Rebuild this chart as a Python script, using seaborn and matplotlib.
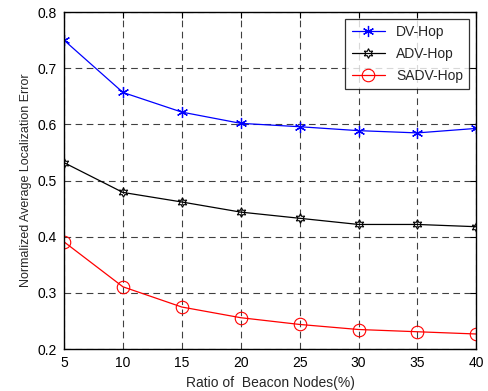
import numpy as np
import pandas as pd
import matplotlib
matplotlib.use("Agg")
import matplotlib.pyplot as plt
import seaborn as sns

# values
ratio = [5, 10, 15, 20, 25, 30, 35, 40]
dv_hop = [0.750, 0.657, 0.622, 0.602, 0.596, 0.589, 0.585, 0.593]
adv_hop = [0.532, 0.479, 0.462, 0.444, 0.433, 0.422, 0.422, 0.418]
sadv_hop = [0.391, 0.311, 0.275, 0.256, 0.244, 0.235, 0.231, 0.227]

series = {"DV-Hop": dv_hop, "ADV-Hop": adv_hop, "SADV-Hop": sadv_hop}
df = pd.DataFrame(
    [(r, name, v) for name, vals in series.items() for r, v in zip(ratio, vals)],
    columns=["ratio", "method", "error"],
)

sns.set_style("white")
plt.rcParams['font.family'] = ['Liberation Sans', 'DejaVu Sans']

fig = plt.figure(figsize=(4.89, 3.91), dpi=100)
ax = fig.add_axes([0.131, 0.107, 0.843, 0.862])

styles = {
    "DV-Hop": dict(color="#0000ff", marker=(6, 2, 0), ms=8, mfc="none", mec="#0000ff", mew=0.9),
    "ADV-Hop": dict(color="black", marker=(6, 1, 0), ms=7, mfc="none", mec="black", mew=0.8),
    "SADV-Hop": dict(color="#ff0000", marker="o", ms=9, mfc="none", mec="#ff0000", mew=0.8),
}
for name in series:
    sub = df[df["method"] == name]
    sns.lineplot(data=sub, x="ratio", y="error", ax=ax, label=name, lw=0.9,
                 **styles[name])

ax.set_xlim(5, 40)
ax.set_ylim(0.2, 0.8)
ax.set_xticks(ratio)
ax.set_yticks([0.2, 0.3, 0.4, 0.5, 0.6, 0.7, 0.8])
ax.set_yticklabels(["0.2", "0.3", "0.4", "0.5", "0.6", "0.7", "0.8"])
ax.grid(True, color="black", ls=(0, (6, 4)), lw=0.8, alpha=0.75)
ax.tick_params(direction="in", length=4, pad=5, labelsize=10, top=True, right=True,
               colors="black")
for s in ax.spines.values():
    s.set_color("black")
    s.set_linewidth(1.0)

ax.set_xlabel("Ratio of  Beacon Nodes(%)", fontsize=10)
ax.set_ylabel("Normalized Average Localization Error", fontsize=9)

leg = ax.legend(loc="upper right", fontsize=10, frameon=True, fancybox=False,
                edgecolor="black", borderaxespad=0.5, handlelength=2.4,
                labelspacing=0.55, borderpad=0.45)
leg.get_frame().set_linewidth(0.9)

fig.savefig("out.png", dpi=100)
